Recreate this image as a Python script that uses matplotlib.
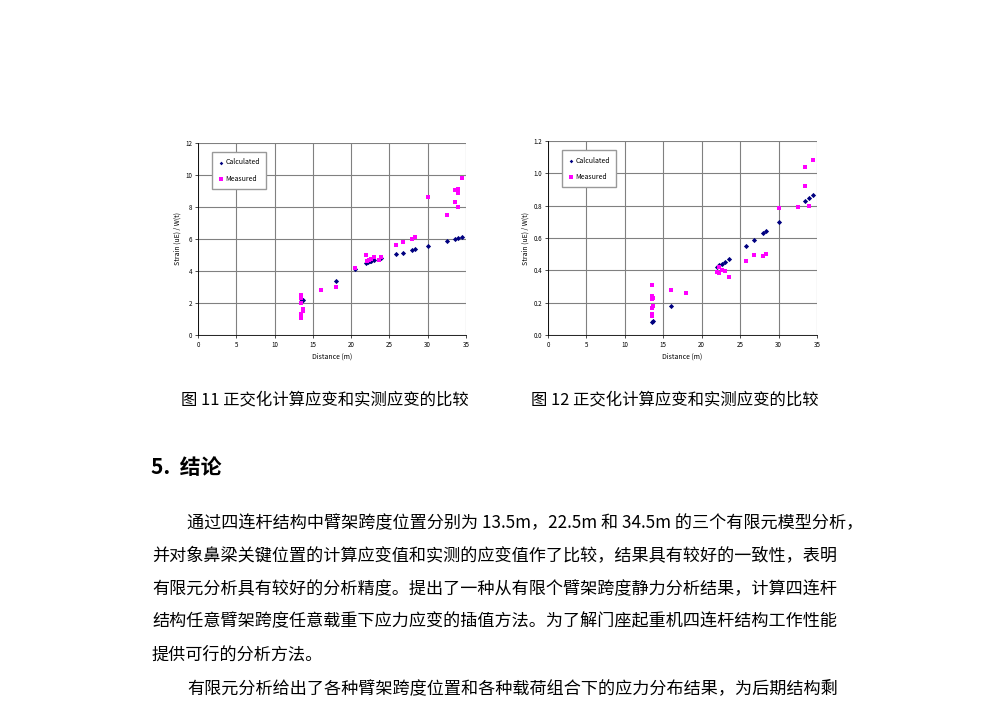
import matplotlib
matplotlib.use("Agg")
import matplotlib.pyplot as plt
import numpy as np

plt.rcParams['font.family'] = ['Noto Sans CJK SC', 'DejaVu Sans']

# Chart 11
c1_calc_x = [13.5, 13.6, 13.7, 18, 20.5, 22, 22.2, 22.4, 22.6, 23, 23.9, 25.8, 26.8, 28, 28.4, 30, 32.5, 33.5, 33.9, 34.5]
c1_calc_y = [2.1, 2.2, 2.2, 3.4, 4.1, 4.5, 4.55, 4.6, 4.65, 4.7, 4.8, 5.05, 5.15, 5.3, 5.35, 5.55, 5.85, 6.0, 6.05, 6.1]
c1_meas_x = [13.5, 13.5, 13.5, 13.5, 13.5, 13.5, 13.7, 13.7, 16, 18, 20.5, 22, 22.1, 22.3, 22.6, 23, 23.6, 23.9, 25.8, 26.8, 28, 28.4, 30, 32.5, 33.5, 33.5, 33.9, 34, 34, 34.5]
c1_meas_y = [2.5, 2.4, 2.3, 2.0, 1.3, 1.05, 1.6, 1.5, 2.8, 3.0, 4.2, 5.0, 4.6, 4.7, 4.75, 4.9, 4.7, 4.9, 5.6, 5.8, 6.0, 6.1, 8.6, 7.5, 9.05, 8.3, 9.1, 8.85, 8.0, 9.8]

# Chart 12
c2_calc_x = [13.5, 13.6, 16, 22, 22.3, 22.6, 23, 23.6, 25.8, 26.8, 28, 28.4, 30, 33.5, 34, 34.5]
c2_calc_y = [0.08, 0.085, 0.18, 0.42, 0.43, 0.44, 0.45, 0.47, 0.55, 0.59, 0.63, 0.645, 0.70, 0.83, 0.845, 0.865]
c2_meas_x = [13.5, 13.5, 13.5, 13.5, 13.5, 13.5, 13.7, 13.7, 16, 18, 22, 22.3, 22.3, 22.6, 23, 23.6, 25.8, 26.8, 28, 28.4, 30, 32.5, 33.5, 33.5, 34, 34.5]
c2_meas_y = [0.31, 0.24, 0.22, 0.17, 0.13, 0.12, 0.23, 0.18, 0.28, 0.26, 0.39, 0.42, 0.385, 0.40, 0.395, 0.36, 0.455, 0.495, 0.49, 0.50, 0.785, 0.79, 1.04, 0.92, 0.80, 1.08]

captions = ["图 11 正交化计算应变和实测应变的比较", "图 12 正交化计算应变和实测应变的比较"]
heading = "5.  结论"
body = [
    "通过四连杆结构中臂架跨度位置分别为 13.5m，22.5m 和 34.5m 的三个有限元模型分析，",
    "并对象鼻梁关键位置的计算应变值和实测的应变值作了比较，结果具有较好的一致性，表明",
    "有限元分析具有较好的分析精度。提出了一种从有限个臂架跨度静力分析结果，计算四连杆",
    "结构任意臂架跨度任意载重下应力应变的插值方法。为了解门座起重机四连杆结构工作性能",
    "提供可行的分析方法。",
    "有限元分析给出了各种臂架跨度位置和各种载荷组合下的应力分布结果，为后期结构剩",
]

fig = plt.figure(figsize=(10, 7.14), dpi=100)

def make(rect, cx, cy, mx, my, ymax, ystep, fmt, leg_anchor):
    ax = fig.add_axes(rect)
    ax.scatter(cx, cy, s=7, marker='D', color='#000080', label='Calculated', zorder=3, linewidths=0)
    ax.scatter(mx, my, s=10, marker='s', color='#FF00FF', label='Measured', zorder=3, linewidths=0)
    ax.set_xlim(0, 35)
    ax.set_ylim(0, ymax)
    ax.set_xticks(range(0, 36, 5))
    yt = np.arange(0, ymax + 1e-9, ystep)
    ax.set_yticks(yt)
    ax.set_yticklabels([fmt.format(v) for v in yt])
    ax.grid(True, color='#808080', linewidth=0.8)
    ax.set_axisbelow(True)
    ax.tick_params(labelsize=4.5, length=2, width=0.5, pad=2)
    for s in ax.spines.values():
        s.set_linewidth(0.6)
    ax.spines['top'].set_visible(False)
    ax.spines['right'].set_visible(False)
    ax.set_xlabel('Distance (m)', fontsize=5, labelpad=3)
    ax.set_ylabel('Strain (uE) / W(t)', fontsize=5, labelpad=3)
    ax.legend(loc='upper left', bbox_to_anchor=leg_anchor, fontsize=5, fancybox=False,
              edgecolor='#999999', framealpha=1, borderpad=0.9, labelspacing=1.2,
              handletextpad=0.2, handlelength=0.8, markerscale=0.7)
    return ax

make([0.198, 0.5308, 0.268, 0.269], c1_calc_x, c1_calc_y, c1_meas_x, c1_meas_y, 12, 2, '{:.0f}', (0.04, 0.97))
make([0.548, 0.5308, 0.269, 0.2717], c2_calc_x, c2_calc_y, c2_meas_x, c2_meas_y, 1.2, 0.2, '{:.1f}', (0.04, 0.97))

fig.text(0.325, 1 - 400 / 714, captions[0], fontsize=11.8, fontweight='medium', ha='center', va='center')
fig.text(0.675, 1 - 400 / 714, captions[1], fontsize=11.8, fontweight='medium', ha='center', va='center')
fig.text(0.151, 1 - 468 / 714, heading, fontsize=15, fontweight='bold', ha='left', va='center')

ys = [523, 556, 589, 621, 655, 688]
xs = [0.187, 0.152, 0.152, 0.152, 0.152, 0.187]
for t, y, x in zip(body, ys, xs):
    fig.text(x, 1 - y / 714, t, fontsize=12.3, ha='left', va='center')

fig.savefig('out.png', dpi=100)
